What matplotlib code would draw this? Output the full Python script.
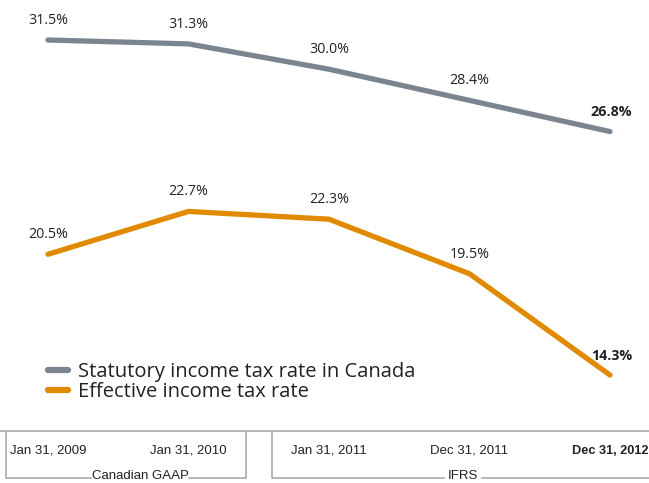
import matplotlib.pyplot as plt
from matplotlib.lines import Line2D

# Income tax rates by reporting date
dates = ["Jan 31, 2009", "Jan 31, 2010", "Jan 31, 2011", "Dec 31, 2011", "Dec 31, 2012"]
statutory = [31.5, 31.3, 30.0, 28.4, 26.8]
effective = [20.5, 22.7, 22.3, 19.5, 14.3]
gaap_label = "Canadian GAAP"
ifrs_label = "IFRS"

GREY = "#7b858f"
ORANGE = "#e08a00"
FRAME = "#a7adb3"
TEXT = "#222222"
NARROW = ["Liberation Sans", "DejaVu Sans"]

W, H = 649, 483
fig = plt.figure(figsize=(W / 100, H / 100), dpi=100)
ax = fig.add_axes([0, 1 - 431 / H, 1, 431 / H])

x = list(range(len(dates)))
ax.plot(x, statutory, color=GREY, lw=3.8, solid_capstyle="round",
        label="Statutory income tax rate in Canada")
ax.plot(x, effective, color=ORANGE, lw=3.8, solid_capstyle="round",
        label="Effective income tax rate")

# value labels, last point in bold
for series in (statutory, effective):
    for i, v in enumerate(series):
        last = i == len(series) - 1
        ax.annotate(f"{v:.1f}%", (i, v), xytext=(1 if last else 0, 14),
                    textcoords="offset points", ha="center", va="center",
                    fontsize=10.3, family="Open Sans", color=TEXT,
                    fontweight="bold" if last else "normal")

# pixel mapping: x 0 -> 48px, step 140.5px; y 31.5 -> 40px, 19.48px per point
ax.set_xlim(-48 / 140.5, (W - 48) / 140.5)
ax.set_ylim(31.5 - (431 - 40) / 19.48, 31.5 + 40 / 19.48)

for s in ("top", "left", "right"):
    ax.spines[s].set_visible(False)
ax.spines["bottom"].set_color(FRAME)
ax.spines["bottom"].set_linewidth(1.2)
ax.set_yticks([])
ax.set_xticks(x)
ax.set_xticklabels(dates, family=NARROW, fontsize=9.5, color=TEXT)
ax.get_xticklabels()[-1].set_fontweight("bold")
ax.get_xticklabels()[-1].set_fontsize(9.2)
ax.tick_params(axis="x", length=0, pad=10)

leg = ax.legend(loc="upper left", bbox_to_anchor=(40 / W, 1 - 354 / 431),
                frameon=False, prop={"family": "Open Sans", "size": 14.5},
                handlelength=1.0, handletextpad=0.5, labelspacing=0.0,
                borderaxespad=0)
for t in leg.get_texts():
    t.set_color(TEXT)
for h in leg.legend_handles:
    h.set_linewidth(4.5)
    h.set_solid_capstyle("round")


# brackets grouping the accounting standards
def px(xp, yp):
    return xp / W, 1 - yp / H


def bracket(x0, x1, label, xc, open_right=False):
    top, bot = 432, 478
    half = len(label) * 3.3 + 6
    segs = [[(x0, top), (x0, bot), (xc - half, bot)],
            [(xc + half, bot), (x1, bot)]]
    if not open_right:
        segs[1].append((x1, top))
    for seg in segs:
        xs, ys = zip(*[px(a, b) for a, b in seg])
        fig.add_artist(Line2D(xs, ys, color=FRAME, lw=1.2))
    fx, fy = px(xc, bot - 2)
    fig.text(fx, fy, label, ha="center", va="center", fontsize=9.5,
             family=NARROW, color=TEXT)


bracket(6, 246, gaap_label, 140)
bracket(272, W + 5, ifrs_label, 463, open_right=True)

fig.savefig("out.png", dpi=100)
